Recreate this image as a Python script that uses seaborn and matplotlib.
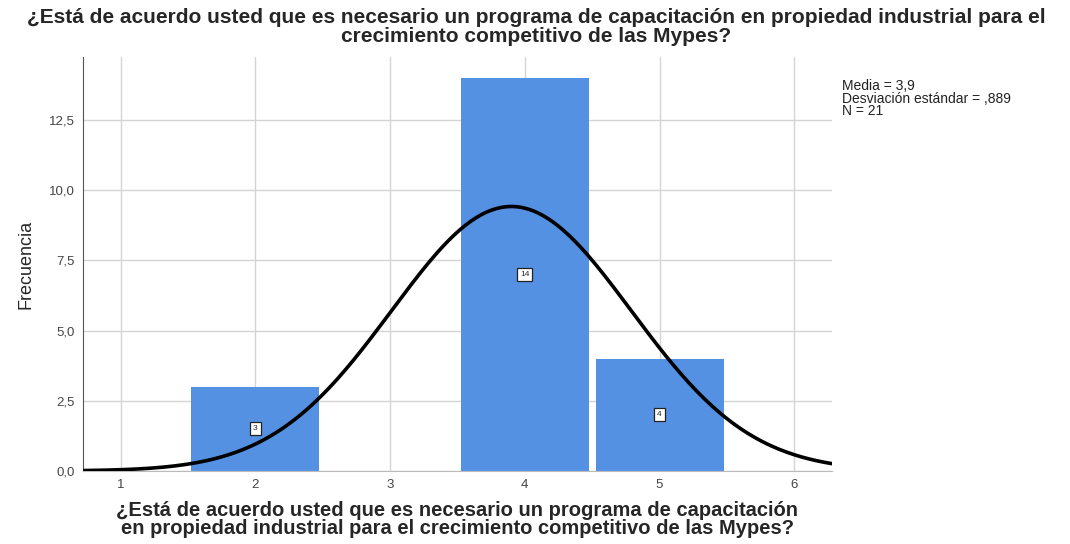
import numpy as np
import pandas as pd
import matplotlib
matplotlib.use('Agg')
import matplotlib.pyplot as plt
import seaborn as sns

# valores de la pregunta y frecuencias
valores = [2, 4, 5]
frecuencias = [3, 14, 4]
media = 3.9
desv = 0.889
n = 21

titulo = '¿Está de acuerdo usted que es necesario un programa de capacitación en propiedad industrial para el\ncrecimiento competitivo de las Mypes?'
eje_x = '¿Está de acuerdo usted que es necesario un programa de capacitación\nen propiedad industrial para el crecimiento competitivo de las Mypes?'

sns.set_style('white')
plt.rcParams['font.family'] = ['Liberation Sans', 'DejaVu Sans']

df = pd.DataFrame({'valor': valores, 'frecuencia': frecuencias})

fig = plt.figure(figsize=(10.7, 5.44), dpi=100)
ax = fig.add_axes([83 / 1070, 1 - 471 / 544, (832 - 83) / 1070, (471 - 57) / 544])

sns.histplot(data=df, x='valor', weights='frecuencia', discrete=True, shrink=0.95,
             color='#5591e3', alpha=1, edgecolor='none', ax=ax, zorder=2)

# curva normal
xs = np.linspace(0.72, 6.28, 300)
ys = n * np.exp(-0.5 * ((xs - media) / desv) ** 2) / (desv * np.sqrt(2 * np.pi))
ax.plot(xs, ys, color='black', lw=2.6, zorder=4)

for v, f in zip(valores, frecuencias):
    ax.text(v, f / 2, str(f), ha='center', va='center', fontsize=6, zorder=5,
            bbox=dict(boxstyle='square,pad=0.35', fc='white', ec='#222222', lw=0.9))

ax.set_xlim(0.72, 6.28)
ax.set_ylim(0, 14.75)
ax.set_xticks([1, 2, 3, 4, 5, 6])
ax.set_yticks([0, 2.5, 5, 7.5, 10, 12.5])
ax.set_yticklabels(['0,0', '2,5', '5,0', '7,5', '10,0', '12,5'])
ax.grid(True, color='#d4d4d4', lw=1, zorder=0)
ax.set_axisbelow(True)
ax.tick_params(axis='both', labelsize=9.5, colors='#444444', length=0, pad=6)
for s in ['top', 'right']:
    ax.spines[s].set_visible(False)
ax.spines['left'].set_color('#555555')
ax.spines['bottom'].set_color('#bbbbbb')

ax.set_ylabel('Frecuencia', fontsize=13, labelpad=10)
ax.set_xlabel(eje_x, fontsize=14.5, fontweight='bold', labelpad=7, linespacing=0.95)

fig.text(536 / 1070, 1 - 8 / 544, titulo, ha='center', va='top', fontsize=15,
         fontweight='bold', linespacing=0.97)
fig.text(842 / 1070, 1 - 79 / 544, 'Media = 3,9\nDesviación estándar = ,889\nN = 21',
         ha='left', va='top', fontsize=10, linespacing=0.88, color='#222222')

fig.savefig('out.png', dpi=100)
